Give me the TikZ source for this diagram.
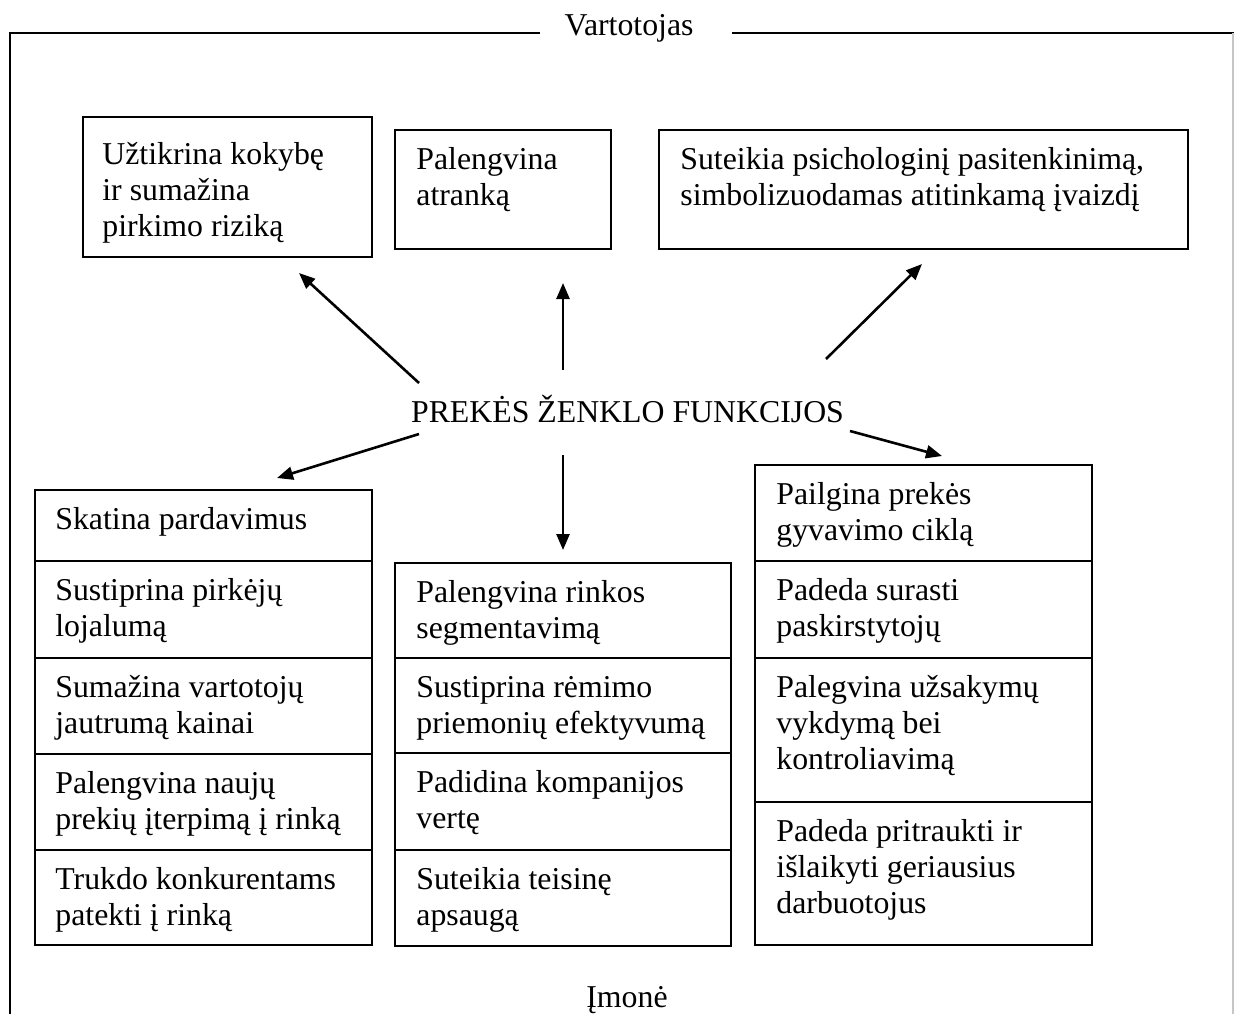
\documentclass[tikz,border=0pt]{standalone}
\usepackage{fontspec}
\setmainfont{Liberation Serif}
\usetikzlibrary{arrows.meta}
% multi-line cell text, baseline at the first line
\newcommand\lns[1]{\begin{tabular}[t]{@{}l@{}}#1\end{tabular}}
\begin{document}
\begin{tikzpicture}[x=0.5pt,y=-0.5pt,
  font=\fontsize{15.9}{18}\selectfont,
  cell/.style={draw, line width=0.8pt, inner sep=0pt, anchor=north west},
  txt/.style={anchor=base west, inner sep=0pt, xshift=11pt, yshift=-20pt},
  link/.style={line width=1.3pt, -{Triangle[length=8pt,width=6.5pt]}},
  frame/.style={line width=1pt}]
\useasboundingbox (0,0) rectangle (1234,1014);

% outer frame with the two titles
\node[anchor=base, inner sep=0pt] (cons) at (629,35) {Vartotojas};
\node[anchor=base, inner sep=0pt] (firm) at (627,1007) {Įmonė};
\coordinate (fl) at (540,33);
\coordinate (fr) at (732,33);
\draw[frame] (fl) -- (10,33) -- (10,1014);
\draw[frame] (fr) -- (1234,33);
\draw[gray!45, line width=0.6pt] (1233,33) -- (1233,1014);

% centre label
\node[anchor=base, inner sep=0pt] (hub) at (627.5,422) {PREKĖS ŽENKLO FUNKCIJOS};

% upper boxes
\node[cell, minimum width=144.5pt, minimum height=70pt] (u1) at (82,116) {};
\node[txt, xshift=-1pt, yshift=-4pt] (tu1) at (u1.north west) {\lns{Užtikrina kokybę\\ir sumažina\\pirkimo riziką}};
\node[cell, minimum width=108pt, minimum height=59.5pt] (u2) at (394,129) {};
\node[txt] (tu2) at (u2.north west) {\lns{Palengvina\\atranką}};
\node[cell, minimum width=264.5pt, minimum height=59.5pt] (u3) at (658,129) {};
\node[txt] (tu3) at (u3.north west) {\lns{Suteikia psichologinį pasitenkinimą,\\simbolizuodamas atitinkamą įvaizdį}};

% left column
\node[cell, minimum width=168.5pt, minimum height=35.5pt] (l1) at (34,489) {};
\node[txt, xshift=-0.5pt] (tl1) at (l1.north west) {\lns{Skatina pardavimus}};
\node[cell, minimum width=168.5pt, minimum height=48.5pt] (l2) at (34,560) {};
\node[txt, xshift=-0.5pt] (tl2) at (l2.north west) {\lns{Sustiprina pirkėjų\\lojalumą}};
\node[cell, minimum width=168.5pt, minimum height=48pt] (l3) at (34,657) {};
\node[txt, xshift=-0.5pt] (tl3) at (l3.north west) {\lns{Sumažina vartotojų\\jautrumą kainai}};
\node[cell, minimum width=168.5pt, minimum height=48pt] (l4) at (34,753) {};
\node[txt, xshift=-0.5pt] (tl4) at (l4.north west) {\lns{Palengvina naujų\\prekių įterpimą į rinką}};
\node[cell, minimum width=168.5pt, minimum height=47.5pt] (l5) at (34,849) {};
\node[txt, xshift=-0.5pt] (tl5) at (l5.north west) {\lns{Trukdo konkurentams\\patekti į rinką}};

% middle column
\node[cell, minimum width=168pt, minimum height=47.5pt] (m1) at (394,562) {};
\node[txt] (tm1) at (m1.north west) {\lns{Palengvina rinkos\\segmentavimą}};
\node[cell, minimum width=168pt, minimum height=47.5pt] (m2) at (394,657) {};
\node[txt] (tm2) at (m2.north west) {\lns{Sustiprina rėmimo\\priemonių efektyvumą}};
\node[cell, minimum width=168pt, minimum height=48.5pt] (m3) at (394,752) {};
\node[txt] (tm3) at (m3.north west) {\lns{Padidina kompanijos\\vertę}};
\node[cell, minimum width=168pt, minimum height=48pt] (m4) at (394,849) {};
\node[txt] (tm4) at (m4.north west) {\lns{Suteikia teisinę\\apsaugą}};

% right column
\node[cell, minimum width=168.5pt, minimum height=48pt] (r1) at (754,464) {};
\node[txt] (tr1) at (r1.north west) {\lns{Pailgina prekės\\gyvavimo ciklą}};
\node[cell, minimum width=168.5pt, minimum height=48.5pt] (r2) at (754,560) {};
\node[txt] (tr2) at (r2.north west) {\lns{Padeda surasti\\paskirstytojų}};
\node[cell, minimum width=168.5pt, minimum height=72pt] (r3) at (754,657) {};
\node[txt] (tr3) at (r3.north west) {\lns{Palegvina užsakymų\\vykdymą bei\\kontroliavimą}};
\node[cell, minimum width=168.5pt, minimum height=71.5pt] (r4) at (754,801) {};
\node[txt] (tr4) at (r4.north west) {\lns{Padeda pritraukti ir\\išlaikyti geriausius\\darbuotojus}};

% arrow ends around the centre label
\coordinate (s1) at (419,383);  \coordinate (e1) at (299,273);
\coordinate (s2) at (563,370);  \coordinate (e2) at (563,283);
\coordinate (s3) at (826,359);  \coordinate (e3) at (922,264);
\coordinate (s4) at (419,434);  \coordinate (e4) at (277,478);
\coordinate (s5) at (563,455);  \coordinate (e5) at (563,550);
\coordinate (s6) at (850,431);  \coordinate (e6) at (942,456);
\foreach \i in {1,...,6} \draw[link] (s\i) -- (e\i);
\end{tikzpicture}
\end{document}
